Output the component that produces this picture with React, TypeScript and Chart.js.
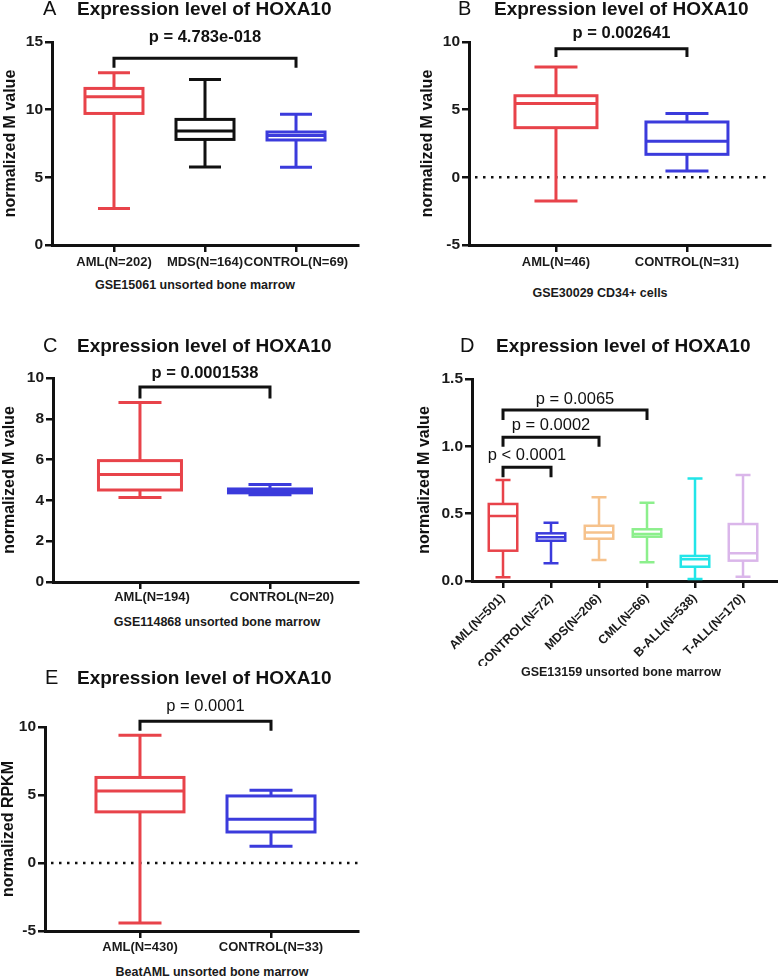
import React, { useEffect, useRef } from "react";
import { Chart, registerables } from "chart.js";

Chart.register(...registerables);

const FONT = "'Liberation Sans', Arial, Helvetica, sans-serif";

const RED = "#e8434a";
const BLUE = "#3b3bdc";
const BLACK = "#111111";
const ORANGE = "#f6c28c";
const GREEN = "#8cef8c";
const CYAN = "#22e5e8";
const PURPLE = "#dab6ea";

// ---------- Panel A : GSE15061 ----------
const catsA = ["AML(N=202)", "MDS(N=164)", "CONTROL(N=69)"];
const minA = [2.7, 5.77, 5.75];
const q1A = [9.72, 7.8, 7.76];
const medA = [10.95, 8.42, 8.1];
const q3A = [11.57, 9.28, 8.35];
const maxA = [12.72, 12.23, 9.67];
const colorsA = [RED, BLACK, BLUE];
const brFromA = [0];
const brToA = [2];
const brTopA = [13.8];
const brDropA = [13.1];
const brTextA = ["p = 4.783e-018"];
const brTextYA = [15.33];

// ---------- Panel B : GSE30029 ----------
const catsB = ["AML(N=46)", "CONTROL(N=31)"];
const minB = [-1.75, 0.47];
const q1B = [3.67, 1.7];
const medB = [5.45, 2.66];
const q3B = [6.03, 4.09];
const maxB = [8.15, 4.71];
const colorsB = [RED, BLUE];
const brFromB = [0];
const brToB = [1];
const brTopB = [9.5];
const brDropB = [8.9];
const brTextB = ["p = 0.002641"];
const brTextYB = [10.64];

// ---------- Panel C : GSE114868 ----------
const catsC = ["AML(N=194)", "CONTROL(N=20)"];
const minC = [4.14, 4.28];
const q1C = [4.51, 4.37];
const medC = [5.27, 4.47];
const q3C = [5.95, 4.56];
const maxC = [8.8, 4.78];
const colorsC = [RED, BLUE];
const brFromC = [0];
const brToC = [1];
const brTopC = [9.56];
const brDropC = [9.0];
const brTextC = ["p = 0.0001538"];
const brTextYC = [10.2];

// ---------- Panel D : GSE13159 ----------
const catsD = ["AML(N=501)", "CONTROL(N=72)", "MDS(N=206)", "CML(N=66)", "B-ALL(N=538)", "T-ALL(N=170)"];
const minD = [0.027, 0.131, 0.156, 0.139, 0.015, 0.032];
const q1D = [0.225, 0.299, 0.314, 0.329, 0.106, 0.151];
const medD = [0.483, 0.324, 0.361, 0.349, 0.161, 0.206];
const q3D = [0.572, 0.354, 0.41, 0.384, 0.186, 0.423];
const maxD = [0.75, 0.433, 0.621, 0.581, 0.762, 0.787];
const colorsD = [RED, BLUE, ORANGE, GREEN, CYAN, PURPLE];
const brFromD = [0, 0, 0];
const brToD = [1, 2, 3];
const brTopD = [0.844, 1.067, 1.27];
const brDropD = [0.77, 0.997, 1.195];
const brTextD = ["p < 0.0001", "p = 0.0002", "p = 0.0065"];
const brTextYD = [0.935, 1.158, 1.349];

// ---------- Panel E : BeatAML ----------
const catsE = ["AML(N=430)", "CONTROL(N=33)"];
const minE = [-4.42, 1.23];
const q1E = [3.76, 2.28];
const medE = [5.3, 3.22];
const q3E = [6.29, 4.93];
const maxE = [9.4, 5.35];
const colorsE = [RED, BLUE];
const brFromE = [0];
const brToE = [1];
const brTopE = [10.43];
const brDropE = [9.72];
const brTextE = ["p = 0.0001"];
const brTextYE = [11.5];

type Panel = {
  key: string;
  letter: string;
  cats: string[];
  mins: number[];
  q1: number[];
  med: number[];
  q3: number[];
  maxs: number[];
  colors: string[];
  br: { from: number[]; to: number[]; top: number[]; drop: number[]; text: string[]; ty: number[] };
  pBold: boolean;
  area: { l: number; t: number; r: number; b: number };
  yTitle: string;
  yTitleX: number;
  yMin: number;
  yMax: number;
  yStep: number;
  yDec: number;
  xMin: number;
  xMax: number;
  boxW: number;
  capW: number;
  lw: number;
  rot: number;
  labelPad: number;
  labelOffset: number;
  xFont: number;
  xAxisH: number;
  zero: boolean;
  heading: { lx: number; tx: number; base: number };
  caption: { text: string; cx: number; cy: number };
};

const panels: Panel[] = [
  {
    key: "A", letter: "A", cats: catsA, mins: minA, q1: q1A, med: medA, q3: q3A, maxs: maxA, colors: colorsA,
    br: { from: brFromA, to: brToA, top: brTopA, drop: brDropA, text: brTextA, ty: brTextYA }, pBold: true,
    area: { l: 52, t: 42, r: 358, b: 245 }, yTitle: "normalized M value", yTitleX: 11,
    yMin: 0, yMax: 15, yStep: 5, yDec: 0, xMin: -0.681, xMax: 2.681,
    boxW: 61, capW: 32, lw: 3, rot: 0, labelPad: 3, labelOffset: 0, xFont: 13, xAxisH: 30, zero: false,
    heading: { lx: 43, tx: 77, base: 15 },
    caption: { text: "GSE15061 unsorted bone marrow", cx: 195, cy: 285 },
  },
  {
    key: "B", letter: "B", cats: catsB, mins: minB, q1: q1B, med: medB, q3: q3B, maxs: maxB, colors: colorsB,
    br: { from: brFromB, to: brToB, top: brTopB, drop: brDropB, text: brTextB, ty: brTextYB }, pBold: true,
    area: { l: 469, t: 42, r: 770, b: 245 }, yTitle: "normalized M value", yTitleX: 428,
    yMin: -5, yMax: 10, yStep: 5, yDec: 0, xMin: -0.664, xMax: 1.634,
    boxW: 85, capW: 43, lw: 3, rot: 0, labelPad: 3, labelOffset: 0, xFont: 13, xAxisH: 30, zero: true,
    heading: { lx: 458, tx: 494, base: 15 },
    caption: { text: "GSE30029 CD34+ cells", cx: 600, cy: 293 },
  },
  {
    key: "C", letter: "C", cats: catsC, mins: minC, q1: q1C, med: medC, q3: q3C, maxs: maxC, colors: colorsC,
    br: { from: brFromC, to: brToC, top: brTopC, drop: brDropC, text: brTextC, ty: brTextYC }, pBold: true,
    area: { l: 53, t: 378, r: 358, b: 582 }, yTitle: "normalized M value", yTitleX: 10,
    yMin: 0, yMax: 10, yStep: 2, yDec: 0, xMin: -0.669, xMax: 1.677,
    boxW: 86, capW: 43, lw: 3, rot: 0, labelPad: 1, labelOffset: 12, xFont: 13, xAxisH: 30, zero: false,
    heading: { lx: 43, tx: 77, base: 352 },
    caption: { text: "GSE114868 unsorted bone marrow", cx: 217, cy: 622 },
  },
  {
    key: "D", letter: "D", cats: catsD, mins: minD, q1: q1D, med: medD, q3: q3D, maxs: maxD, colors: colorsD,
    br: { from: brFromD, to: brToD, top: brTopD, drop: brDropD, text: brTextD, ty: brTextYD }, pBold: false,
    area: { l: 472, t: 379, r: 777, b: 581 }, yTitle: "normalized M value", yTitleX: 425,
    yMin: 0, yMax: 1.5, yStep: 0.5, yDec: 1, xMin: -0.646, xMax: 5.708,
    boxW: 31, capW: 15, lw: 2.5, rot: 45, labelPad: 3, labelOffset: 0, xFont: 12.5, xAxisH: 85, zero: false,
    heading: { lx: 460, tx: 496, base: 352 },
    caption: { text: "GSE13159 unsorted bone marrow", cx: 621, cy: 672 },
  },
  {
    key: "E", letter: "E", cats: catsE, mins: minE, q1: q1E, med: medE, q3: q3E, maxs: maxE, colors: colorsE,
    br: { from: brFromE, to: brToE, top: brTopE, drop: brDropE, text: brTextE, ty: brTextYE }, pBold: false,
    area: { l: 45, t: 727, r: 358, b: 931 }, yTitle: "normalized RPKM", yTitleX: 9,
    yMin: -5, yMax: 10, yStep: 5, yDec: 0, xMin: -0.725, xMax: 1.664,
    boxW: 91, capW: 43, lw: 3, rot: 0, labelPad: 2, labelOffset: 0, xFont: 13, xAxisH: 30, zero: true,
    heading: { lx: 45, tx: 77, base: 684 },
    caption: { text: "BeatAML unsorted bone marrow", cx: 212, cy: 972 },
  },
];

const PAD_TOP = 45;
const PAD_RIGHT = 4;
const PAD_BOTTOM = 2;
const YTITLE_HALF = 16 * 1.2 / 2;

function geometry(p: Panel) {
  const canvasX = Math.floor(p.yTitleX - YTITLE_HALF - 2);
  const padLeft = p.yTitleX - YTITLE_HALF - canvasX;
  const yAxisW = p.area.l - canvasX - padLeft;
  const canvasY = p.area.t - PAD_TOP;
  const w = p.area.r + PAD_RIGHT - canvasX;
  const h = PAD_TOP + (p.area.b - p.area.t) + p.xAxisH + PAD_BOTTOM;
  return { canvasX, canvasY, padLeft, yAxisW, w, h };
}

function boxPlugin(p: Panel) {
  return {
    id: "boxWhisker" + p.key,
    beforeDatasetsDraw(chart: any) {
      if (!p.zero) return;
      const { ctx, chartArea, scales } = chart;
      const y = scales.y.getPixelForValue(0);
      ctx.save();
      ctx.strokeStyle = "#111";
      ctx.lineWidth = 2.5;
      ctx.setLineDash([2.5, 5.5]);
      ctx.beginPath();
      ctx.moveTo(chartArea.left + 6, y);
      ctx.lineTo(chartArea.right, y);
      ctx.stroke();
      ctx.restore();
    },
    afterDatasetsDraw(chart: any) {
      const { ctx, scales } = chart;
      const x = scales.x;
      const y = scales.y;
      const meta = chart.getDatasetMeta(0);
      ctx.save();
      ctx.lineCap = "butt";
      ctx.lineJoin = "miter";
      ctx.lineWidth = p.lw;
      p.cats.forEach((_, i) => {
        const el = meta.data[i];
        const props = el.getProps(["x", "y", "base", "width"], true);
        const cx = props.x;
        const half = props.width / 2;
        const top = Math.min(props.y, props.base);
        const bot = Math.max(props.y, props.base);
        const yMax = y.getPixelForValue(p.maxs[i]);
        const yMin = y.getPixelForValue(p.mins[i]);
        const yMed = y.getPixelForValue(p.med[i]);
        ctx.strokeStyle = p.colors[i];
        ctx.strokeRect(cx - half, top, props.width, bot - top);
        ctx.beginPath();
        ctx.moveTo(cx, top);
        ctx.lineTo(cx, yMax);
        ctx.moveTo(cx, bot);
        ctx.lineTo(cx, yMin);
        ctx.moveTo(cx - p.capW / 2, yMax);
        ctx.lineTo(cx + p.capW / 2, yMax);
        ctx.moveTo(cx - p.capW / 2, yMin);
        ctx.lineTo(cx + p.capW / 2, yMin);
        ctx.moveTo(cx - half, yMed);
        ctx.lineTo(cx + half, yMed);
        ctx.stroke();
      });
      ctx.strokeStyle = "#111";
      ctx.fillStyle = "#111";
      ctx.lineWidth = 3;
      ctx.font = (p.pBold ? "bold " : "") + "16.5px " + FONT;
      ctx.textAlign = "center";
      ctx.textBaseline = "middle";
      p.br.from.forEach((f, k) => {
        const x0 = x.getPixelForValue(f);
        const x1 = x.getPixelForValue(p.br.to[k]);
        const yt = y.getPixelForValue(p.br.top[k]);
        const yd = y.getPixelForValue(p.br.drop[k]);
        ctx.beginPath();
        ctx.moveTo(x0, yd);
        ctx.lineTo(x0, yt);
        ctx.lineTo(x1, yt);
        ctx.lineTo(x1, yd);
        ctx.stroke();
        ctx.fillText(p.br.text[k], (x0 + x1) / 2, y.getPixelForValue(p.br.ty[k]));
      });
      ctx.restore();
    },
  };
}

function BoxPanel({ p }: { p: Panel }) {
  const ref = useRef<HTMLCanvasElement>(null);
  const g = geometry(p);
  useEffect(() => {
    const canvas = ref.current;
    if (!canvas) return;
    const gridOpts = {
      display: true,
      offset: false,
      drawOnChartArea: false,
      drawTicks: true,
      tickLength: 7,
      tickWidth: 2.5,
      tickColor: "#111",
      color: "#111",
      lineWidth: 2.5,
    };
    const chart = new Chart(canvas, {
      type: "bar",
      data: {
        datasets: [
          {
            data: p.cats.map((_, i) => ({ x: i, y: [p.q1[i], p.q3[i]] })) as any,
            backgroundColor: "rgba(0,0,0,0)",
            borderColor: p.colors,
            borderWidth: 0,
            borderSkipped: false,
            barThickness: p.boxW - p.lw,
            inflateAmount: 0,
          } as any,
        ],
      },
      options: {
        animation: false,
        responsive: false,
        maintainAspectRatio: false,
        events: [],
        layout: { padding: { left: g.padLeft, top: PAD_TOP, right: PAD_RIGHT, bottom: PAD_BOTTOM } },
        plugins: { legend: { display: false }, tooltip: { enabled: false }, title: { display: false } },
        scales: {
          x: {
            type: "linear",
            min: p.xMin,
            max: p.xMax,
            bounds: "data",
            offset: false,
            afterBuildTicks: (s: any) => {
              s.ticks = p.cats.map((_, i) => ({ value: i }));
            },
            afterFit: (s: any) => {
              s.height = p.xAxisH;
            },
            ticks: {
              autoSkip: false,
              maxRotation: p.rot,
              minRotation: p.rot,
              padding: p.labelPad,
              labelOffset: p.labelOffset,
              color: "#1a1a1a",
              font: { family: FONT, size: p.xFont, weight: "bold" },
              callback: (v: any) => p.cats[Math.round(Number(v))] ?? "",
            },
            grid: gridOpts,
            border: { display: true, color: "#111", width: 3 },
          } as any,
          y: {
            type: "linear",
            min: p.yMin,
            max: p.yMax,
            afterFit: (s: any) => {
              s.width = g.yAxisW;
            },
            ticks: {
              stepSize: p.yStep,
              padding: 2,
              color: "#1a1a1a",
              font: { family: FONT, size: 15.5, weight: "bold" },
              callback: (v: any) => Number(v).toFixed(p.yDec),
            },
            grid: gridOpts,
            border: { display: true, color: "#111", width: 3 },
            title: {
              display: true,
              text: p.yTitle,
              color: "#111",
              padding: 0,
              font: { family: FONT, size: 16, weight: "bold" },
            },
          } as any,
        },
      } as any,
      plugins: [boxPlugin(p)],
    });
    return () => chart.destroy();
  }, [p]);
  return (
    <canvas
      ref={ref}
      width={g.w}
      height={g.h}
      style={{ position: "absolute", left: g.canvasX, top: g.canvasY, width: g.w, height: g.h }}
    />
  );
}

function Heading({ p }: { p: Panel }) {
  const base = p.heading.base;
  return (
    <>
      <div
        style={{
          position: "absolute",
          left: p.heading.lx,
          top: base - 0.8465 * 20,
          font: `20px ${FONT}`,
          lineHeight: "20px",
          color: "#111",
          whiteSpace: "nowrap",
        }}
      >
        {p.letter}
      </div>
      <div
        style={{
          position: "absolute",
          left: p.heading.tx,
          top: base - 0.8465 * 19,
          font: `bold 19px ${FONT}`,
          lineHeight: "19px",
          color: "#111",
          whiteSpace: "nowrap",
        }}
      >
        Expression level of HOXA10
      </div>
      <div
        style={{
          position: "absolute",
          left: p.caption.cx,
          top: p.caption.cy,
          transform: "translate(-50%, -50%)",
          font: `bold 12.5px ${FONT}`,
          lineHeight: "14px",
          color: "#1a1a1a",
          whiteSpace: "nowrap",
        }}
      >
        {p.caption.text}
      </div>
    </>
  );
}

export default function App() {
  return (
    <div
      style={{
        position: "absolute",
        left: 0,
        top: 0,
        width: 778,
        height: 977,
        background: "#ffffff",
        overflow: "hidden",
        fontFamily: FONT,
      }}
    >
      {panels.map((p) => (
        <BoxPanel key={p.key} p={p} />
      ))}
      {panels.map((p) => (
        <Heading key={"h" + p.key} p={p} />
      ))}
    </div>
  );
}
